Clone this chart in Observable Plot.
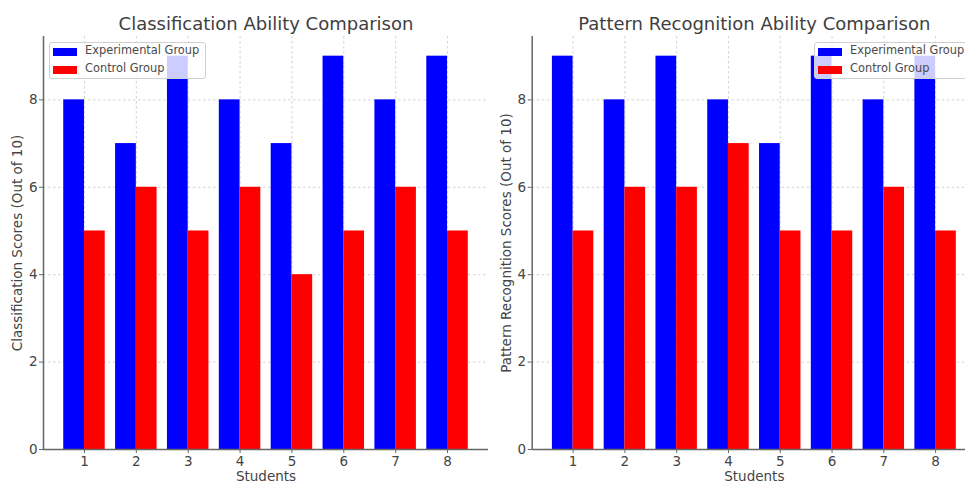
<!DOCTYPE html>
<html>
<head>
<meta charset="utf-8">
<script src="https://cdn.jsdelivr.net/npm/d3@7"></script>
<script src="https://cdn.jsdelivr.net/npm/@observablehq/plot@0.6"></script>
<style>
  html, body { margin: 0; padding: 0; background: #fff; overflow: hidden; }
  #wrap { position: relative; width: 965px; height: 482px; overflow: hidden; font-family: "DejaVu Sans", sans-serif; }
  .panel { position: absolute; top: 0; }
  .legend { position: absolute; top: 42px; height: 37px; background: rgba(255,255,255,0.8); border: 1px solid #d0d0d0; border-radius: 3px; box-sizing: border-box; }
  .legend .item { position: absolute; left: 3px; height: 16px; }
  .legend .sw { position: absolute; left: 0; width: 24px; height: 8px; }
  .legend .lab { position: absolute; left: 32px; top: -5px; font-size: 11.4px; color: #4a4a4a; white-space: nowrap; }
</style>
</head>
<body>
<div id="wrap"></div>
<script>
const students = [1, 2, 3, 4, 5, 6, 7, 8];
const seriesNames = ["Experimental Group", "Control Group"];
const seriesColors = ["#0000ff", "#ff0000"];

const classExp = [8, 7, 9, 8, 7, 9, 8, 9];
const classCtrl = [5, 6, 5, 6, 4, 5, 6, 5];
const patternExp = [9, 8, 9, 8, 7, 9, 8, 9];
const patternCtrl = [5, 6, 6, 7, 5, 5, 6, 5];

const titles = ["Classification Ability Comparison", "Pattern Recognition Ability Comparison"];
const yLabels = ["Classification Scores (Out of 10)", "Pattern Recognition Scores (Out of 10)"];
const xLabel = "Students";
const yTicks = [0, 2, 4, 6, 8];

const barW = 0.4;
const textColor = "#444";
const fontFam = "DejaVu Sans, sans-serif";

function panel(exp, ctrl, title, ylab, opts) {
  const rows = [];
  students.forEach((s, i) => {
    rows.push({s, v: exp[i], g: 0});
    rows.push({s, v: ctrl[i], g: 1});
  });
  return Plot.plot({
    width: opts.width,
    height: 482,
    marginLeft: opts.marginLeft,
    marginRight: 0,
    marginTop: 36,
    marginBottom: 33,
    style: {fontFamily: fontFam, background: "transparent", overflow: "visible"},
    x: {domain: [0.21, 8.79], label: null},
    y: {domain: [0, 9.45], label: null},
    marks: [
      Plot.gridX(students, {stroke: "#b0b0b0", strokeOpacity: 0.7, strokeDasharray: "2.5,2.5", strokeWidth: 0.8}),
      Plot.gridY(yTicks, {stroke: "#b0b0b0", strokeOpacity: 0.7, strokeDasharray: "2.5,2.5", strokeWidth: 0.8}),
      Plot.rectY(rows, {
        x1: d => d.g === 0 ? d.s - barW : d.s,
        x2: d => d.g === 0 ? d.s : d.s + barW,
        y1: 0,
        y2: "v",
        fill: d => seriesColors[d.g]
      }),
      Plot.ruleY([0], {stroke: "#666", strokeWidth: 1.5}),
      Plot.ruleX([0.21], {stroke: "#666", strokeWidth: 1.5}),
      Plot.axisX(students, {tickSize: 4, tickPadding: 3, fontSize: 13.5, stroke: "#666", fill: textColor, tickFormat: d => String(d), label: null}),
      Plot.axisY(yTicks, {tickSize: 4, tickPadding: 2, fontSize: 13.5, stroke: "#666", fill: textColor, label: null}),
      Plot.text([ylab], {frameAnchor: "left", textAnchor: "middle", dx: -25.5, rotate: -90, fontSize: 13.5, fill: textColor, text: d => d}),
      Plot.text([xLabel], {frameAnchor: "bottom", dy: 31, lineAnchor: "bottom", fontSize: 13.5, fill: textColor, text: d => d}),
      Plot.text([title], {frameAnchor: "top", dy: -7, lineAnchor: "bottom", fontSize: 18, fill: "#404040", text: d => d})
    ]
  });
}

function legend(left, width) {
  const div = document.createElement("div");
  div.className = "legend";
  div.style.left = left + "px";
  div.style.width = width + "px";
  seriesNames.forEach((name, i) => {
    const item = document.createElement("div");
    item.className = "item";
    item.style.top = (5 + i * 18) + "px";
    const sw = document.createElement("div");
    sw.className = "sw";
    sw.style.background = seriesColors[i];
    const lab = document.createElement("div");
    lab.className = "lab";
    lab.textContent = name;
    item.appendChild(sw);
    item.appendChild(lab);
    div.appendChild(item);
  });
  return div;
}

const wrap = document.getElementById("wrap");

const p1 = panel(classExp, classCtrl, titles[0], yLabels[0], {width: 488, marginLeft: 43});
p1.classList.add("panel");
p1.style.left = "0px";
wrap.appendChild(p1);

const p2 = panel(patternExp, patternCtrl, titles[1], yLabels[1], {width: 488, marginLeft: 43.7});
p2.classList.add("panel");
p2.style.left = "488px";
wrap.appendChild(p2);

wrap.appendChild(legend(49, 157));
wrap.appendChild(legend(814, 160));
</script>
</body>
</html>
